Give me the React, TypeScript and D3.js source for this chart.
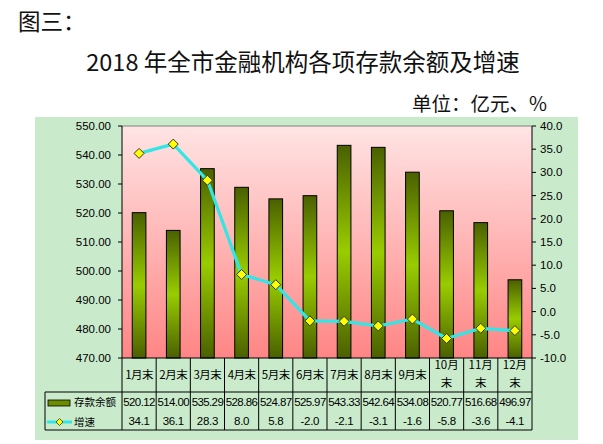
import React from "react";
import * as d3 from "d3";

const months = ["1月末", "2月末", "3月末", "4月末", "5月末", "6月末", "7月末", "8月末", "9月末", "10月末", "11月末", "12月末"];
const deposits = [520.12, 514.0, 535.29, 528.86, 524.87, 525.97, 543.33, 542.64, 534.08, 520.77, 516.68, 496.97];
const growth = [34.1, 36.1, 28.3, 8.0, 5.8, -2.0, -2.1, -3.1, -1.6, -5.8, -3.6, -4.1];
const leftTicks = [470, 480, 490, 500, 510, 520, 530, 540, 550];
const rightTicks = [-10, -5, 0, 5, 10, 15, 20, 25, 30, 35, 40];
const depositLabels = ["520.12", "514.00", "535.29", "528.86", "524.87", "525.97", "543.33", "542.64", "534.08", "520.77", "516.68", "496.97"];
const growthLabels = ["34.1", "36.1", "28.3", "8.0", "5.8", "-2.0", "-2.1", "-3.1", "-1.6", "-5.8", "-3.6", "-4.1"];

const W = 603, H = 444;
const L = 122, R = 532, T = 126, B = 358;
const row1 = 392, row3 = 430, tableL = 45;
const NUM = "'Liberation Sans', Arial, sans-serif";
const CJK = "'Noto Sans CJK SC', 'Noto Sans', sans-serif";

export default function App() {
  const x = d3.scaleBand<string>().domain(months).range([L, R]).paddingInner(0).paddingOuter(0);
  const yL = d3.scaleLinear().domain([470, 550]).range([B, T]);
  const yR = d3.scaleLinear().domain([-10, 40]).range([B, T]);
  const bw = x.bandwidth() * 0.4;
  const line = d3.line<number>().x((_, i) => x(months[i])! + x.bandwidth() / 2).y((d) => yR(d));
  const diamond = (cx: number, cy: number, r: number) => `M${cx},${cy - r}L${cx + r},${cy}L${cx},${cy + r}L${cx - r},${cy}Z`;

  return (
    <svg width={W} height={H} style={{ position: "absolute", left: 0, top: 0 }}>
      <defs>
        <linearGradient id="bg" x1="0" y1="0" x2="0" y2="1">
          <stop offset="0" stopColor="#ffe4e4" />
          <stop offset="1" stopColor="#ff8585" />
        </linearGradient>
        <linearGradient id="bar" x1="0" y1="0" x2="0" y2="1">
          <stop offset="0" stopColor="#4a6000" />
          <stop offset="0.5" stopColor="#99cc00" />
          <stop offset="1" stopColor="#4a6000" />
        </linearGradient>
      </defs>
      <rect width={W} height={H} fill="#ffffff" />
      <text x={18} y={30} fontFamily={CJK} fontSize={22.5} fill="#111">图三：</text>
      <text x={303} y={71} textAnchor="middle" fontFamily={CJK} fontSize={23.5} fill="#111">2018 年全市金融机构各项存款余额及增速</text>
      <text x={547} y={111} textAnchor="end" fontFamily={CJK} fontSize={19.5} fill="#111">单位：亿元、%</text>

      <rect x={35} y={117} width={543} height={323} fill="#c9ebcb" />
      <rect x={L} y={T} width={R - L} height={B - T} fill="url(#bg)" />

      {deposits.map((d, i) => (
        <rect key={i} x={x(months[i])! + (x.bandwidth() - bw) / 2} y={yL(d)} width={bw} height={B - yL(d)} fill="url(#bar)" stroke="#000" strokeWidth={1} />
      ))}

      <line x1={L} x2={R} y1={T} y2={T} stroke="#808080" />
      <line x1={L} x2={L} y1={T} y2={B} stroke="#000" />
      <line x1={R} x2={R} y1={T} y2={B} stroke="#000" />
      <line x1={L} x2={R} y1={B} y2={B} stroke="#000" />

      {leftTicks.map((t) => (
        <g key={t}>
          <line x1={L - 4} x2={L} y1={yL(t)} y2={yL(t)} stroke="#000" />
          <text x={111} y={yL(t) + 4} textAnchor="end" fontFamily={NUM} fontSize={11.5} fill="#000">{t.toFixed(2)}</text>
        </g>
      ))}
      {rightTicks.map((t) => (
        <g key={t}>
          <line x1={R} x2={R + 4} y1={yR(t)} y2={yR(t)} stroke="#000" />
          <text x={540} y={yR(t) + 4} fontFamily={NUM} fontSize={11.5} fill="#000">{t.toFixed(1)}</text>
        </g>
      ))}

      <path d={line(growth)!} fill="none" stroke="#33e6e6" strokeWidth={3.2} strokeLinejoin="round" />
      {growth.map((g, i) => (
        <path key={i} d={diamond(x(months[i])! + x.bandwidth() / 2, yR(g), 5)} fill="#ffff00" stroke="#333" strokeWidth={1} />
      ))}

      {months.map((m, i) => {
        const x0 = x(m)!;
        const cx = x0 + x.bandwidth() / 2;
        const twoLine = m.length > 3;
        return (
          <g key={m}>
            <line x1={x0 + x.bandwidth()} x2={x0 + x.bandwidth()} y1={B} y2={row3} stroke="#000" />
            {twoLine ? (
              <>
                <text x={cx} y={369} textAnchor="middle" fontFamily={CJK} fontSize={11.5} fill="#000">{m.slice(0, 3)}</text>
                <text x={cx} y={387} textAnchor="middle" fontFamily={CJK} fontSize={11.5} fill="#000">{m.slice(3)}</text>
              </>
            ) : (
              <text x={cx} y={379} textAnchor="middle" fontFamily={CJK} fontSize={11.5} fill="#000" letterSpacing={-0.5}>{m}</text>
            )}
            <text x={cx} y={406} textAnchor="middle" fontFamily={NUM} fontSize={11.5} fill="#000" letterSpacing={-0.6}>{depositLabels[i]}</text>
            <text x={cx} y={425} textAnchor="middle" fontFamily={NUM} fontSize={11.5} fill="#000" letterSpacing={-0.3}>{growthLabels[i]}</text>
          </g>
        );
      })}
      <line x1={L} x2={L} y1={B} y2={row3} stroke="#000" />
      <line x1={tableL} x2={R} y1={row1} y2={row1} stroke="#000" />
      <line x1={tableL} x2={R} y1={row3} y2={row3} stroke="#000" />
      <line x1={tableL} x2={tableL} y1={row1} y2={row3} stroke="#000" />

      <rect x={48} y={400} width={22} height={6} fill="#6b8c00" stroke="#000" strokeWidth={0.8} />
      <text x={74} y={406} fontFamily={CJK} fontSize={10.5} fill="#000">存款余额</text>
      <line x1={47} x2={72} y1={422} y2={422} stroke="#33e6e6" strokeWidth={3} />
      <path d={diamond(59.5, 422, 3.5)} fill="#ffff00" stroke="#333" strokeWidth={0.8} />
      <text x={74} y={426} fontFamily={CJK} fontSize={10.5} fill="#000">增速</text>
    </svg>
  );
}
